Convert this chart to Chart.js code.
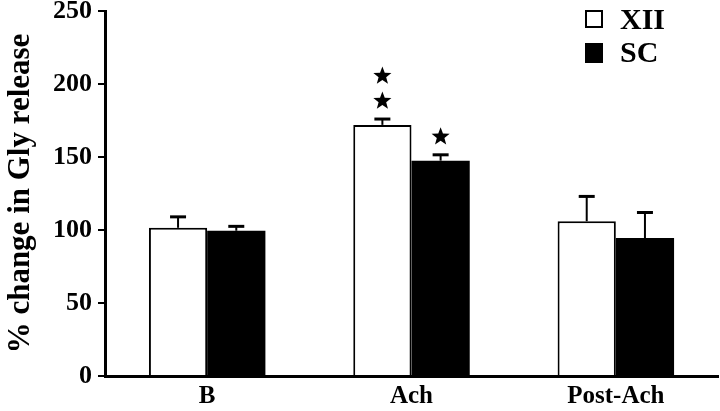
<!DOCTYPE html>
<html>
<head>
<meta charset="utf-8">
<script src="https://cdn.jsdelivr.net/npm/chart.js@4"></script>
<style>
  html, body { margin:0; padding:0; background:#fff; }
  #wrap { width:720px; height:411px; }
</style>
</head>
<body>
<div id="wrap"><canvas id="chart" width="720" height="411"></canvas></div>
<script>
// === Datos ===
const groups = ['B', 'Ach', 'Post-Ach'];
const seriesNames = ['XII', 'SC'];
const xiiValues = [101.5, 172, 106];
const xiiErrors = [7.5, 4, 17];
const scValues = [99.5, 147.5, 94.5];
const scErrors = [3, 4, 17.5];
const xiiStars = [0, 2, 0];
const scStars = [0, 1, 0];
const yTicks = [0, 50, 100, 150, 200, 250];

const FONT = '"Liberation Serif", "Times New Roman", serif';

function drawStar(ctx, cx, cy, rOut, rIn){
  ctx.beginPath();
  for(let i=0;i<10;i++){
    const r = i%2===0 ? rOut : rIn;
    const a = -Math.PI/2 + i*Math.PI/5;
    const px = cx + r*Math.cos(a), py = cy + r*Math.sin(a);
    if(i===0) ctx.moveTo(px,py); else ctx.lineTo(px,py);
  }
  ctx.closePath();
  ctx.fill();
}

// errores + estrellas + leyenda
const extras = {
  id:'extras',
  afterDatasetsDraw(chart){
    const ctx = chart.ctx;
    const y = chart.scales.y;
    const errs = [xiiErrors, scErrors];
    const stars = [xiiStars, scStars];
    ctx.save();
    ctx.strokeStyle = '#000';
    ctx.fillStyle = '#000';
    chart.data.datasets.forEach((ds, di)=>{
      const meta = chart.getDatasetMeta(di);
      meta.data.forEach((bar, i)=>{
        const top = y.getPixelForValue(ds.data[i]);
        const capY = y.getPixelForValue(ds.data[i] + errs[di][i]);
        ctx.lineWidth = 2;
        ctx.beginPath();
        ctx.moveTo(bar.x, top);
        ctx.lineTo(bar.x, capY);
        ctx.stroke();
        ctx.lineWidth = 3;
        ctx.beginPath();
        ctx.moveTo(bar.x - 8, capY);
        ctx.lineTo(bar.x + 8, capY);
        ctx.stroke();
        for(let s=0;s<stars[di][i];s++){
          drawStar(ctx, bar.x, capY - 18 - s*25, 9.5, 4);
        }
      });
    });
    // leyenda vertical
    const lx = chart.chartArea.right - 133;
    const ly = 10;
    chart.data.datasets.forEach((ds, di)=>{
      const by = ly + di*33;
      ctx.lineWidth = 2;
      if(di===0){
        ctx.fillStyle = '#fff';
        ctx.fillRect(lx, by, 18, 18);
        ctx.strokeRect(lx+1, by+1, 16, 16);
      } else {
        ctx.fillStyle = '#000';
        ctx.fillRect(lx, by, 18, 20);
      }
      ctx.fillStyle = '#000';
      ctx.font = 'bold 30px ' + FONT;
      ctx.textBaseline = 'middle';
      ctx.textAlign = 'left';
      ctx.fillText(ds.label, lx + 35, by + 11);
    });
    ctx.restore();
  }
};

new Chart(document.getElementById('chart'), {
  type:'bar',
  data:{
    labels: groups,
    datasets:[
      {label: seriesNames[0], data: xiiValues, backgroundColor:'#fff', borderColor:'#000', borderWidth:2,
       categoryPercentage:0.57, barPercentage:1.0},
      {label: seriesNames[1], data: scValues, backgroundColor:'#000', borderColor:'#000', borderWidth:0,
       categoryPercentage:0.57, barPercentage:1.0}
    ]
  },
  options:{
    responsive:false,
    animation:false,
    layout:{padding:{top:11, right:2, left:0, bottom:0}},
    plugins:{legend:{display:false}, tooltip:{enabled:false}},
    scales:{
      x:{
        grid:{display:false, drawTicks:false},
        border:{display:true, color:'#000', width:3},
        ticks:{color:'#000', padding:6, font:{family:FONT, size:25, weight:'bold'}},
        afterFit(s){ s.height = 35; s.paddingLeft = 0; s.paddingRight = 0; }
      },
      y:{
        min:0, max:250,
        afterBuildTicks(s){ s.ticks = yTicks.map(v=>({value:v})); },
        grid:{drawOnChartArea:false, drawTicks:true, tickLength:7, color:'#000', lineWidth:2},
        border:{display:true, color:'#000', width:3},
        ticks:{color:'#000', padding:6, font:{family:FONT, size:26, weight:'bold', lineHeight:1}},
        title:{display:true, text:'% change in Gly release', color:'#000', padding:{top:2, bottom:0},
               font:{family:FONT, size:31, weight:'bold'}},
        afterFit(s){ s.width = 105; s.paddingTop = 0; s.paddingBottom = 0; }
      }
    }
  },
  plugins:[extras]
});
</script>
</body>
</html>
